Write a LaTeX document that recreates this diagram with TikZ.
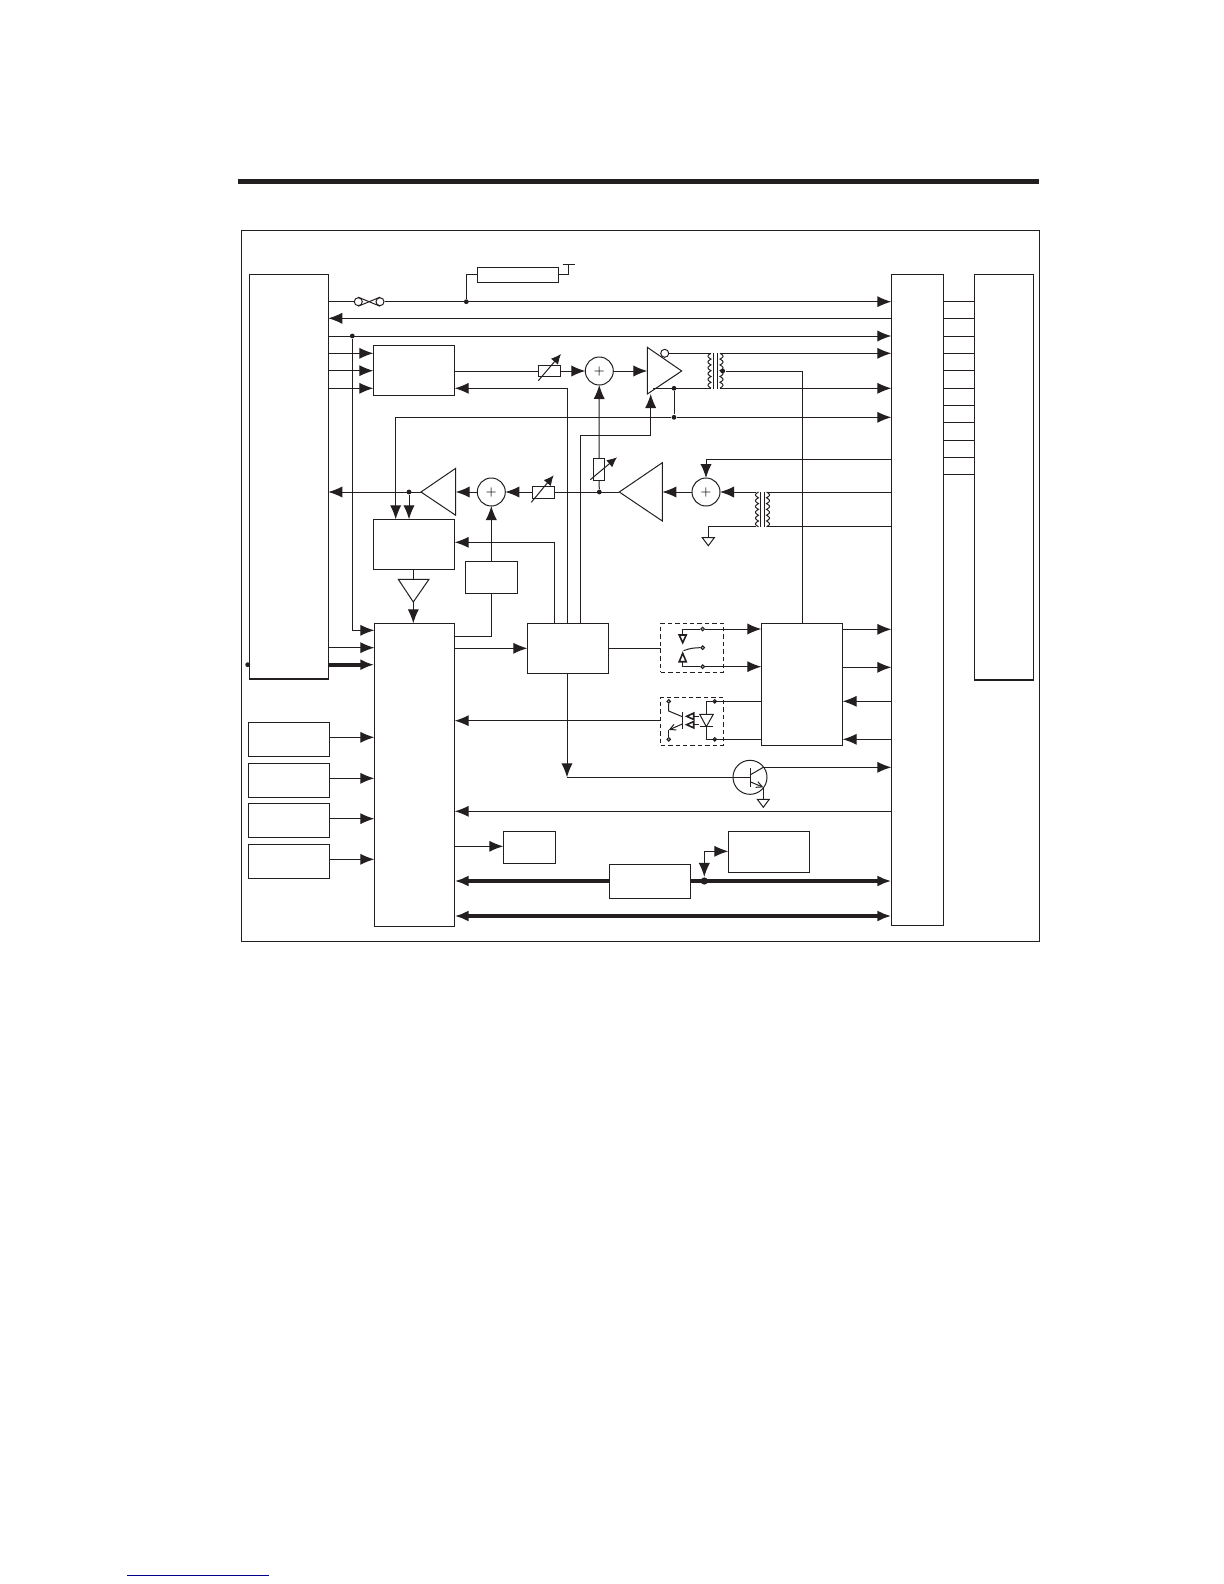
\documentclass[tikz,border=0pt]{standalone}
\usetikzlibrary{arrows.meta}
\definecolor{ink}{HTML}{231F20}
\tikzset{
	blk/.style 2 args={draw=ink, inner sep=0, outer sep=0, anchor=north west, minimum width=#1*0.5pt, minimum height=#2*0.5pt},
	sumnode/.style={draw=ink, circle, inner sep=0, outer sep=0, minimum size=14pt, font=\fontsize{6.5}{7}\selectfont},
	jdot/.style={fill=ink, circle, inner sep=0, minimum size=2.4pt},
	term/.style={draw=ink, fill=gray!60, circle, inner sep=0, minimum size=1.8pt},
	bubble/.style={draw=ink, fill=white, circle, inner sep=0, minimum size=4pt},
	trim/.style={draw=ink, inner sep=0, outer sep=0},
	sparse/.style={dash pattern=on 2.2pt off 1.5pt},
	sig/.style={-{Latex[length=7pt,width=5.6pt]}},
	bus/.style={line width=2pt, -{Latex[length=7pt,width=5.6pt]}},
	adj/.style={-{Latex[length=5pt,width=4.6pt]}},
	hollow/.style={line width=0.8pt, fill=white},
	barb/.style={-{Straight Barb[length=3pt,width=3pt]}},
	gnd/.pic={\draw (-6,0) -- (6,0) -- (0,8) -- cycle;},
}
% one winding: six bumps starting at (x,y), bulging by d
\newcommand{\winding}[3]{\draw[domain=0:6, samples=73, variable=\t] plot ({#1+#3*abs(sin(\t*180))},{#2+\t*5.8});}
\begin{document}
\begin{tikzpicture}[x=0.5pt, y=-0.5pt, draw=ink, line width=0.5pt]
	\useasboundingbox (0,0) rectangle (1224,1584);
	% Page rules and frame
	\draw[line width=2.6pt] (238,181.7) -- (1039,181.7);
	\draw[draw=blue!55!black, line width=0.5pt] (127.3,1575) -- (269,1575);
	\draw (241.3,230.3) rectangle (1039,941);
	% Blocks
	\node[blk={79}{405}] (cpu) at (249.3,274.3) {};
	\node[blk={52.4}{650.7}] (rbus) at (891.3,274.3) {};
	\node[blk={59.4}{405.7}] (far) at (974.3,274.3) {};
	\node[blk={81}{15}] (line) at (477.3,267.3) {};
	\node[blk={81.4}{50}] (enc) at (373.3,345.3) {};
	\node[blk={81.4}{50}] (dec) at (373.3,519.3) {};
	\node[blk={52}{32}] (flt) at (465.3,561.3) {};
	\node[blk={80.4}{303}] (mcu) at (374.3,623.3) {};
	\node[blk={81}{50}] (hub) at (527.3,623.3) {};
	\node[blk={81.4}{122}] (logic) at (761.3,623.3) {};
	\node[blk={81.4}{34}] (ina) at (248.3,722.3) {};
	\node[blk={81.4}{34}] (inb) at (248.3,763.3) {};
	\node[blk={81.4}{34}] (inc) at (248.3,803.3) {};
	\node[blk={81.4}{34}] (ind) at (248.3,844.3) {};
	\node[blk={52}{32}] (led) at (503.3,831.3) {};
	\node[blk={81.4}{34}] (mem) at (609.3,864.3) {};
	\node[blk={81}{41}] (clk) at (728.3,831.3) {};
	\node[blk={62.6}{49}, sparse] (relay) at (660.7,623.3) {};
	\node[blk={62.6}{48}, sparse] (opto) at (660.7,697.3) {};
	\draw[line width=1pt] (cpu.south west) -- (cpu.south east);
	\draw[line width=1pt] (far.south west) -- (far.south east);
	% Links between the two right blocks
	\foreach \y in {301.3,318.3,336,353.3,370.3,388.3,405.3,422.3,440.3,457.3,474.3}
		\draw (rbus.east |- 0,\y) -- (far.west |- 0,\y);
	% Top lines
	\node[bubble] (loopa) at (358.3,301.7) {};
	\node[bubble] (loopb) at (380,301.7) {};
	\node[jdot] (jline) at (466.3,301.7) {};
	\node[jdot] (jrst) at (352.3,336) {};
	\draw (cpu.east |- loopa) -- (loopa);
	\draw (loopa.north) -- (loopb.south);
	\draw (loopa.south) -- (loopb.north);
	\draw[sig] (loopb) -- (rbus.west |- loopb);
	\draw (jline) |- (line.west);
	\draw (line.east) -| (568.3,264.3);
	\draw (562.7,264.3) -- (574.7,264.3);
	\draw[sig] (rbus.west |- 0,318.3) -- (cpu.east |- 0,318.3);
	\draw[sig] (cpu.east |- jrst) -- (rbus.west |- jrst);
	\draw[sig] (jrst) |- (mcu.west |- 0,630.3);
	\foreach \y in {353.3,370.7,388.3}
		\draw[sig] (cpu.east |- 0,\y) -- (enc.west |- 0,\y);
	% Transmit path
	\node[sumnode] (sumtx) at (599.3,371) {$+$};
	\node[trim, minimum width=11.2pt, minimum height=5.7pt] (restx) at (549.5,371) {};
	\draw (enc.east |- restx) -- (restx);
	\draw[sig] (restx) -- (sumtx);
	\draw[adj] (538.3,380.7) -- (561,354);
	\coordinate (txin) at (647.3,371);
	\coordinate (txfb) at (650.7,394);
	\draw (txin |- 0,347.3) -- (681.7,371) -- (txin |- 0,394) -- cycle;
	\draw[sig] (sumtx) -- (txin);
	\node[bubble] (txinv) at (664.7,353.3) {};
	\node[jdot] (jtx) at (674,388.3) {};
	\node[jdot] (jgnd) at (674,417.3) {};
	\node[jdot] (jtap) at (722.7,371) {};
	\draw (txinv) -- (711,353.3);
	\draw (653,388.3) -- (711,388.3);
	\winding{711}{353.3}{-3}
	\draw (713.3,353) -- (713.3,388.7) (717.3,353) -- (717.3,388.7);
	\winding{720}{353.3}{3}
	\draw[sig] (720,353.3) -- (rbus.west |- 0,353.3);
	\draw[sig] (720,388.3) -- (rbus.west |- 0,388.3);
	\draw (jtx) -- (jgnd);
	\draw (jtap) -| (logic.north);
	\draw[sig] (hub.north -| 580.3,0) |- (650.7,435.3) -- (txfb);
	\draw[sig] (hub.north -| 567.7,0) |- (enc.east |- 0,388.3);
	\draw[sig] (hub.north -| 554.3,0) |- (dec.east |- 0,542.3);
	\draw[sig] (jgnd) -- (rbus.west |- jgnd);
	\draw[sig] (jgnd) -| (dec.north -| 395.7,0);
	% Receive path
	\node[sumnode] (sumrx) at (706,492) {$+$};
	\node[sumnode] (sumec) at (491.3,492) {$+$};
	\node[jdot] (jrx) at (599.3,492) {};
	\node[jdot] (jdec) at (409,492) {};
	\node[trim, minimum width=11.2pt, minimum height=6pt] (resrx) at (543.5,492.3) {};
	\node[trim, minimum width=5.7pt, minimum height=11.2pt] (resec) at (599,469.5) {};
	\coordinate (rxtip) at (619.3,492);
	\coordinate (rxin) at (662.3,492);
	\coordinate (ectip) at (421,492);
	\coordinate (ecin) at (455.7,492);
	\draw (rxtip) -- (rxin |- 0,462.7) -- (rxin |- 0,521) -- cycle;
	\draw (ectip) -- (ecin |- 0,468.3) -- (ecin |- 0,515.3) -- cycle;
	\draw (resrx.east |- rxtip) -- (rxtip);
	\draw[sig] (resrx.west |- sumec) -- (sumec);
	\draw[adj] (531.3,502.3) -- (553.7,475.3);
	\draw (jrx) -- (resec);
	\draw[sig] (resec) -- (sumtx);
	\draw[adj] (590.3,479.7) -- (617,457.3);
	\draw[sig] (sumrx) -- (rxin);
	\draw[sig] (sumec) -- (ecin);
	\draw[sig] (ectip) -- (cpu.east |- ectip);
	\draw[sig] (jdec) -- (dec.north -| jdec);
	\draw[sig] (rbus.west |- 0,459.3) -| (sumrx.north);
	\draw[sig] (756,492) -- (sumrx);
	\winding{758.5}{492}{-3}
	\draw (760,492) -- (760,526.7) (764,492) -- (764,526.7);
	\winding{766.5}{492}{3}
	\draw (rbus.west |- 0,492) -- (766.5,492);
	\draw (rbus.west |- 0,526.7) -- (766.5,526.7);
	\draw (756,526.7) -| (708.3,537.7);
	\pic at (708.3,537.7) {gnd};
	\draw[sig] (flt.north) -- (sumec);
	\draw (flt.south) |- (mcu.east |- 0,636.3);
	% Driver below the decoder
	\coordinate (drvtop) at (413.3,579.3);
	\coordinate (drvtip) at (413.3,602);
	\draw (398.3,579.3) -- (429,579.3) -- (drvtip) -- cycle;
	\draw (dec.south -| drvtop) -- (drvtop);
	\draw[sig] (drvtip) -- (mcu.north -| drvtip);
	% Inputs of the controller
	\node[jdot] (jbus) at (247.7,664.7) {};
	\draw[sig] (cpu.east |- 0,647.7) -- (mcu.west |- 0,647.7);
	\draw[bus] (cpu.east |- jbus) -- (mcu.west |- jbus);
	\draw[sig] (ina.east |- 0,737.3) -- (mcu.west |- 0,737.3);
	\draw[sig] (inb.east |- 0,778.3) -- (mcu.west |- 0,778.3);
	\draw[sig] (inc.east |- 0,818.7) -- (mcu.west |- 0,818.7);
	\draw[sig] (ind.east |- 0,859.3) -- (mcu.west |- 0,859.3);
	\draw[sig] (mcu.east |- hub) -- (hub.west);
	\draw (hub.east) -- (relay.west |- hub);
	\draw[sig] (opto.west |- 0,720.7) -- (mcu.east |- 0,720.7);
	% Relay
	\node[term] (ra) at (702.7,629) {};
	\node[term] (rb) at (702.7,647.7) {};
	\node[term] (rc) at (702.7,666.7) {};
	\draw[sig] (ra) -- (logic.west |- ra);
	\draw[sig] (rc) -- (logic.west |- rc);
	\draw (ra) -| (682.7,635);
	\draw (rc) -| (682.7,661.7);
	\draw[hollow] (679.2,635) -- (686.2,635) -- (682.7,642.7) -- cycle;
	\draw[hollow] (679.2,661.7) -- (686.2,661.7) -- (682.7,653.3) -- cycle;
	\draw (683.5,650.7) .. controls (690,648) and (696,647.7) .. (rb);
	% Optocoupler
	\node[term] (oa) at (714.7,701.3) {};
	\node[term] (ob) at (714.7,739.3) {};
	\node[term] (oc) at (668.7,701.3) {};
	\node[term] (od) at (668.7,739.3) {};
	\draw (logic.west |- oa) -| (706.3,714.3);
	\draw (logic.west |- ob) -| (706.3,726.7);
	\draw (699.7,714.3) -- (713.3,714.3) -- (706.3,726.7) -- cycle;
	\draw (699.7,726.7) -- (713.3,726.7);
	\foreach \y in {716.3,724.7} {
		\draw (699,\y) -- (693.7,\y);
		\draw[hollow] (686.7,\y) -- (693.7,\y-3.2) -- (693.7,\y+3.2) -- cycle;
	}
	\draw (682.3,711.7) -- (682.3,729.3);
	\draw (oc) -- (668.7,711) -- (682.3,716.7);
	\draw[barb] (682.3,724) -- (668.7,730);
	\draw (668.7,730) -- (od);
	\foreach \y in {629.3,667.3}
		\draw[sig] (logic.east |- 0,\y) -- (rbus.west |- 0,\y);
	\foreach \y in {701.3,739.3}
		\draw[sig] (rbus.west |- 0,\y) -- (logic.east |- 0,\y);
	% Switching transistor
	\node[draw=ink, circle, inner sep=0, minimum size=17pt] (qsw) at (750,777.3) {};
	\coordinate (qbase) at (750,777.3);
	\coordinate (qcol) at (763.3,767.3);
	\coordinate (qemi) at (763.3,787.3);
	\draw[sig] (hub.south -| 567,0) -- (567,777.3);
	\draw (567,777.3) -- (qbase);
	\draw (750,768.3) -- (750,786.7);
	\draw (750,775) -- (qcol);
	\draw[barb] (750,781.7) -- (qemi);
	\draw[sig] (qcol) -- (rbus.west |- qcol);
	\draw (qemi) -- (763.3,799.3);
	\pic at (763.3,799.3) {gnd};
	% Bottom part
	\draw[sig] (rbus.west |- 0,811.3) -- (mcu.east |- 0,811.3);
	\draw[sig] (mcu.east |- 0,846.3) -- (led.west |- 0,846.3);
	\node[jdot, minimum size=3.6pt] (jmem) at (704.3,881) {};
	\draw[bus] (mem.west |- jmem) -- (mcu.east |- jmem);
	\draw[bus] (mem.east |- jmem) -- (rbus.west |- jmem);
	\draw[sig] (704.3,851.3) -- (jmem);
	\draw[sig] (704.3,851.3) -- (clk.west |- 0,851.3);
	\draw[bus, {Latex[length=7pt,width=5.6pt]}-{Latex[length=7pt,width=5.6pt]}] (mcu.east |- 0,916) -- (rbus.west |- 0,916);
\end{tikzpicture}
\end{document}
